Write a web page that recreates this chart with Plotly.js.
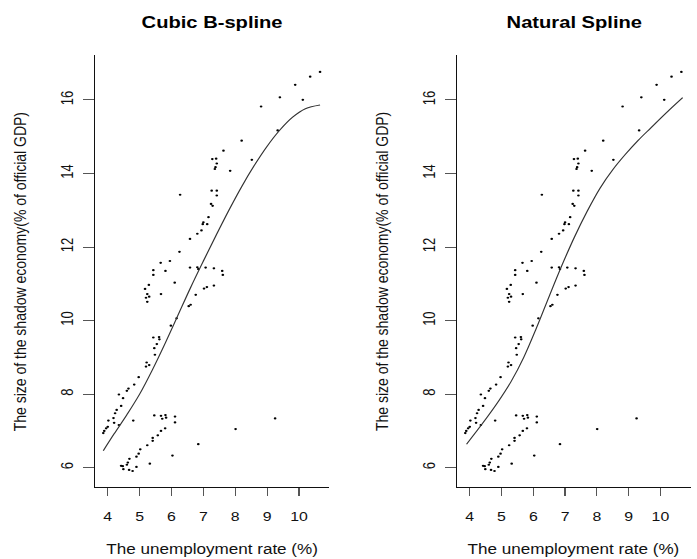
<!DOCTYPE html>
<html>
<head>
<meta charset="utf-8">
<script src="https://cdn.plot.ly/plotly-3.0.1.min.js"></script>
<style>
  html, body { margin: 0; padding: 0; background: #fff; overflow: hidden; }
  #wrap { width: 697px; height: 559px; overflow: hidden; }
  #chart { width: 571px; height: 559px; transform: scaleX(1.2207); transform-origin: 0 0; }
</style>
</head>
<body>
<div id="wrap"><div id="chart"></div></div>
<script>
// Observed data: unemployment rate (%) vs size of shadow economy (% of official GDP)
const unemployment = [6.27,7.28,7.40,7.42,7.38,7.36,7.63,7.84,8.20,8.52,8.81,9.33,9.40,9.88,10.12,10.35,10.66,
  7.26,7.42,7.42,7.24,7.29,7.16,7.00,7.12,6.98,6.94,6.81,6.58,6.25,5.95,5.66,5.43,5.43,5.81,5.29,5.17,5.24,5.30,5.20,5.24,
  5.67,6.10,6.58,6.81,6.84,7.07,7.33,7.59,7.61,7.33,7.11,7.02,6.76,6.60,6.54,6.16,5.98,5.43,5.61,5.62,5.54,5.46,5.48,
  5.22,5.30,5.20,4.97,4.83,4.65,4.60,4.35,4.48,4.42,4.28,4.23,4.18,4.20,4.02,4.00,3.95,3.89,3.86,4.35,4.80,
  5.46,5.67,5.71,5.81,5.83,6.11,6.11,5.80,5.67,5.57,5.41,5.41,5.24,5.02,4.97,4.90,4.68,4.63,4.60,4.42,4.47,4.49,4.67,4.78,4.90,
  5.32,6.03,6.84,8.01,9.25];
const shadowEconomy = [13.42,14.39,14.40,14.27,14.17,14.12,14.62,14.07,14.89,14.37,15.82,15.17,16.07,16.41,16.00,16.63,16.76,
  13.53,13.53,13.40,13.17,13.12,12.81,12.67,12.62,12.62,12.45,12.36,12.22,11.87,11.62,11.57,11.37,11.24,11.35,10.97,10.86,10.72,10.65,10.62,10.51,
  10.72,11.03,11.44,11.45,11.40,11.44,11.42,11.35,11.24,10.95,10.91,10.87,10.70,10.43,10.39,10.06,9.86,9.54,9.55,9.49,9.36,9.25,9.07,
  8.86,8.79,8.75,8.46,8.26,8.15,8.09,7.99,7.89,7.68,7.57,7.48,7.35,7.22,7.28,7.11,7.07,7.00,6.94,7.16,7.28,
  7.42,7.41,7.33,7.43,7.36,7.39,7.23,7.07,7.00,6.88,6.81,6.73,6.61,6.50,6.38,6.30,6.24,6.14,6.08,6.05,6.04,5.96,5.94,5.91,6.02,
  6.11,6.33,6.64,7.05,7.34];

// Fitted curves
const bsplineX = [3.86,4.2,4.6,5.0,5.4,5.8,6.2,6.6,7.0,7.4,7.8,8.2,8.6,9.0,9.4,9.8,10.2,10.66];
const bsplineY = [6.46,6.92,7.44,8.0,8.66,9.38,10.14,10.90,11.62,12.32,13.0,13.64,14.22,14.74,15.18,15.53,15.76,15.86];
const nsplineX = [3.9,4.4,4.9,5.3,5.7,6.1,6.5,6.9,7.3,7.7,8.1,8.5,8.9,9.3,9.7,10.2,10.7];
const nsplineY = [6.64,7.2,7.8,8.34,9.0,9.8,10.66,11.5,12.28,12.98,13.6,14.1,14.52,14.9,15.24,15.66,16.06];

const xTicks = [4,5,6,7,8,9,10];
const yTicks = [6,8,10,12,14,16];
const panelTitles = ['Cubic B-spline','Natural Spline'];
const xTitle = 'The unemployment rate (%)';
const yTitle = 'The size of the shadow economy(% of official GDP)';

const FONT = 'Liberation Sans, Arial, sans-serif';
const H = 559;

const traces = [
  {x: unemployment, y: shadowEconomy, mode: 'markers', type: 'scatter', xaxis: 'x', yaxis: 'y',
   marker: {size: 2.2, color: '#000'}, hoverinfo: 'skip'},
  {x: bsplineX, y: bsplineY, mode: 'lines', type: 'scatter', xaxis: 'x', yaxis: 'y',
   line: {color: '#333', width: 1, shape: 'spline', smoothing: 1}, hoverinfo: 'skip'},
  {x: unemployment, y: shadowEconomy, mode: 'markers', type: 'scatter', xaxis: 'x2', yaxis: 'y2',
   marker: {size: 2.2, color: '#000'}, hoverinfo: 'skip'},
  {x: nsplineX, y: nsplineY, mode: 'lines', type: 'scatter', xaxis: 'x2', yaxis: 'y2',
   line: {color: '#333', width: 1, shape: 'spline', smoothing: 1}, hoverinfo: 'skip'}
];

function xax(domain, anchor) {
  return {domain: domain, anchor: anchor, range: [3.6, 10.95], tickvals: xTicks, ticktext: xTicks.map(String),
    showline: true, linecolor: '#111', linewidth: 1, ticks: 'outside', ticklen: 8, tickcolor: '#555', tickwidth: 1,
    showgrid: false, zeroline: false, tickfont: {family: FONT, size: 13, color: '#111'}, ticklabelstandoff: 9,
    fixedrange: true};
}
function yax(domain, anchor) {
  return {domain: domain, anchor: anchor, range: [5.475, 17.22], tickvals: yTicks, ticktext: yTicks.map(String),
    showline: true, linecolor: '#111', linewidth: 1, ticks: 'outside', ticklen: 9, tickcolor: '#555', tickwidth: 1,
    showgrid: false, zeroline: false, tickangle: -90, tickfont: {family: FONT, size: 13, color: '#111'},
    ticklabelstandoff: 3, fixedrange: true};
}

const yDom = [1 - 487 / H, 1 - 55 / H];
const annotations = [];
[['x', 'y'], ['x2', 'y2']].forEach(function (p, i) {
  annotations.push({xref: p[0] + ' domain', yref: 'paper', x: 0.5, y: 1 - 22.5 / H, xanchor: 'center', yanchor: 'middle',
    text: '<b>' + panelTitles[i] + '</b>', showarrow: false, font: {family: FONT, size: 16.5, color: '#000'}});
  annotations.push({xref: p[0] + ' domain', yref: 'paper', x: 0.5, y: 1 - 549 / H, xanchor: 'center', yanchor: 'middle',
    text: xTitle, showarrow: false, font: {family: FONT, size: 14, color: '#111'}});
  annotations.push({xref: p[0] + ' domain', yref: p[1] + ' domain', x: -0.32, y: 0.5, xanchor: 'center', yanchor: 'middle',
    text: yTitle, textangle: -90, showarrow: false, font: {family: FONT, size: 14, color: '#111'}});
});

const layout = {
  width: 571, height: H,
  margin: {l: 0, r: 0, t: 0, b: 0},
  paper_bgcolor: '#fff', plot_bgcolor: '#fff',
  showlegend: false,
  xaxis: xax([95 / 1.2207 / 571, 329.3 / 1.2207 / 571], 'y'),
  yaxis: yax(yDom, 'x'),
  xaxis2: xax([374.39 / 571, 690.6 / 1.2207 / 571], 'y2'),
  yaxis2: yax(yDom, 'x2'),
  annotations: annotations,
  font: {family: FONT}
};

Plotly.newPlot('chart', traces, layout, {displayModeBar: false, staticPlot: true});
</script>
</body>
</html>
